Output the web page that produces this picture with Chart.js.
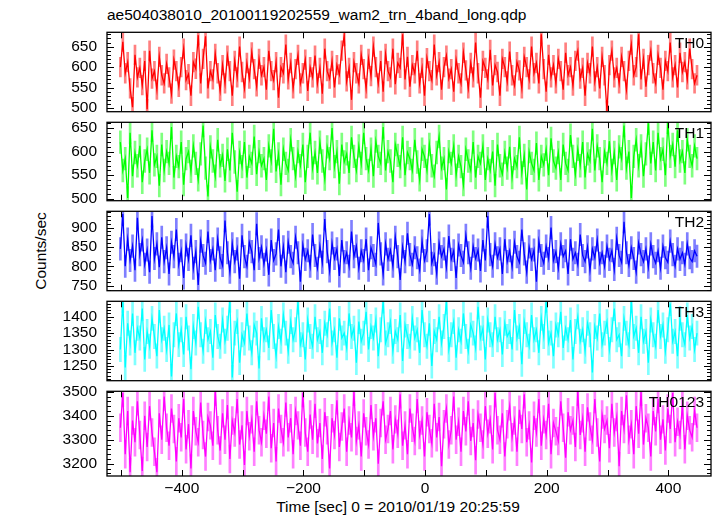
<!DOCTYPE html>
<html><head><meta charset="utf-8">
<script src="https://cdn.jsdelivr.net/npm/chart.js@4.4.1/dist/chart.umd.min.js"></script>
<style>
html,body{margin:0;padding:0;background:#fff;}
body{width:717px;height:516px;position:relative;overflow:hidden;font-family:"Liberation Sans",Arial,sans-serif;}
canvas{position:absolute;left:0;}
.t{position:absolute;font-size:15.5px;line-height:18px;color:#000;white-space:nowrap;}
</style></head><body>
<div class="t" style="left:107px;top:6px">ae504038010_20100119202559_wam2_trn_4band_long.qdp</div>
<div class="t" style="left:41px;top:251px;transform:translate(-50%,-50%) rotate(-90deg)">Counts/sec</div>
<div class="t" style="left:398px;top:498px;transform:translateX(-50%)">Time [sec] 0 = 2010/01/19 20:25:59</div>
<script>
// time bins (seconds from 2010/01/19 20:25:59)
const tStart = -501, tStep = 4;

const th0 = [600,662,585,612,548,502,630,575,598,556,615,497,640,572,590,545,625,580,560,608,
575,535,618,590,552,600,645,568,583,530,612,596,678,560,620,675,548,590,570,632,
585,542,605,560,628,590,530,615,575,650,588,548,610,572,636,595,553,620,580,600,
545,640,590,568,612,525,600,585,655,570,610,548,595,630,560,585,618,542,600,575,
628,560,598,535,645,590,572,615,550,605,582,640,676,565,598,520,612,585,560,630,
595,548,620,578,650,600,560,615,540,632,590,575,645,558,610,598,680,570,625,552,
605,585,640,560,598,530,622,590,568,655,580,612,545,600,628,572,595,540,618,585,
560,635,592,548,610,575,660,585,525,615,598,570,642,555,605,588,530,620,600,565,
638,580,555,612,592,548,625,600,570,650,585,610,560,680,595,540,630,575,605,560,
620,590,545,635,580,600,555,615,640,572,598,530,610,585,650,565,600,548,625,580,
492,605,640,575,598,560,625,590,545,615,655,580,600,680,570,620,552,605,640,585,
560,630,598,545,615,590,660,575,605,550,635,588,612,570,645,595,560,580];

const th1 = [620,560,585,502,640,548,598,570,612,535,580,605,555,645,572,590,528,615,560,600,
575,652,545,590,568,620,530,585,600,558,612,575,540,595,655,565,505,610,580,548,
625,570,592,538,605,560,640,578,515,598,568,620,545,590,575,632,552,600,570,585,
540,612,580,648,558,595,530,605,575,560,625,585,548,600,570,615,535,590,640,565,
598,555,620,580,542,610,585,650,568,600,532,615,578,595,555,630,590,560,612,575,
640,585,560,605,548,622,590,575,652,560,600,580,535,615,592,568,630,550,598,585,
560,625,578,540,605,590,560,615,570,548,598,632,565,585,520,600,575,612,550,590,
568,530,605,580,560,620,545,590,575,612,540,585,560,600,528,615,570,552,598,565,
610,545,585,568,630,555,592,520,600,575,560,618,540,590,572,605,550,628,580,565,
598,540,615,575,560,635,590,552,605,570,620,545,595,580,648,560,612,585,535,600,
575,622,560,598,540,610,585,655,565,600,502,590,625,570,612,548,595,660,575,620,
560,640,585,605,550,662,590,615,568,645,580,600,555,625,590,570,612,585];

const th2 = [845,935,800,870,815,852,790,925,830,868,805,842,785,930,820,858,798,875,812,848,
780,862,825,895,805,840,770,855,818,880,795,838,752,865,828,808,890,815,845,790,
870,822,802,918,835,785,858,812,845,768,880,825,800,862,838,790,910,820,850,805,
842,778,868,815,832,895,800,850,785,862,825,808,875,835,760,855,818,840,800,882,
828,795,852,810,922,838,788,860,820,845,775,868,812,835,800,890,825,852,795,840,
815,870,790,848,828,805,912,832,780,858,818,842,800,875,825,765,850,812,885,830,
805,848,822,790,865,815,840,935,808,830,782,860,825,845,798,878,818,840,770,855,
828,810,880,835,795,852,820,842,788,868,815,930,830,800,858,822,845,780,870,812,
840,798,862,825,810,895,832,785,850,818,842,760,865,828,808,852,820,900,815,838,
795,858,825,840,780,870,818,835,805,882,828,812,850,790,845,822,868,808,835,800,
852,818,840,792,872,828,810,915,835,802,848,820,785,860,830,812,845,798,858,825,
808,840,795,852,822,810,865,830,800,845,818,835,805,858,822,812,840,826];

const th3 = [1300,1450,1245,1380,1320,1410,1290,1365,1335,1425,1270,1355,1310,1395,1340,1280,1420,1330,1365,1300,
1375,1218,1345,1410,1315,1360,1285,1400,1335,1240,1370,1320,1430,1345,1295,1385,1330,1355,1275,1405,
1340,1310,1390,1325,1365,1450,1215,1350,1385,1260,1345,1320,1410,1335,1290,1375,1350,1242,1395,1330,
1360,1305,1420,1340,1280,1370,1325,1405,1350,1295,1385,1330,1360,1445,1315,1345,1270,1390,1340,1310,
1400,1330,1355,1290,1380,1345,1425,1320,1360,1275,1395,1335,1350,1305,1410,1340,1365,1260,1385,1325,
1350,1415,1300,1370,1335,1390,1280,1360,1448,1320,1345,1385,1295,1355,1330,1405,1265,1375,1340,1310,
1395,1335,1360,1290,1420,1345,1310,1380,1250,1355,1330,1400,1320,1370,1445,1300,1345,1385,1275,1360,
1325,1410,1340,1295,1375,1350,1305,1430,1335,1365,1270,1390,1345,1315,1400,1330,1360,1285,1380,1340,
1355,1300,1420,1335,1370,1255,1385,1345,1310,1405,1330,1360,1290,1395,1340,1450,1320,1350,1280,1375,
1345,1415,1305,1365,1330,1390,1270,1355,1400,1325,1360,1295,1380,1345,1230,1370,1335,1410,1315,1350,
1385,1300,1360,1425,1330,1345,1280,1395,1350,1315,1448,1340,1365,1290,1400,1325,1355,1260,1390,1345,
1310,1420,1340,1375,1295,1360,1440,1325,1355,1280,1395,1345,1315,1405,1335,1370,1300,1350];

const th0123 = [3350,3495,3240,3420,3165,3380,3290,3460,3320,3170,3400,3270,3440,3330,3250,3165,3410,3300,3480,3350,
3275,3430,3345,3210,3390,3310,3470,3260,3365,3180,3420,3335,3290,3455,3320,3230,3395,3360,3275,3500,
3340,3255,3410,3300,3445,3220,3380,3330,3470,3280,3360,3195,3420,3315,3385,3250,3460,3340,3290,3400,
3325,3480,3265,3370,3210,3430,3345,3290,3455,3310,3390,3240,3420,3360,3275,3495,3330,3250,3405,3300,
3450,3285,3370,3220,3415,3340,3180,3390,3320,3465,3270,3355,3430,3250,3380,3310,3500,3295,3360,3230,
3410,3335,3280,3445,3315,3390,3200,3370,3460,3300,3345,3420,3260,3385,3325,3490,3275,3360,3240,3430,
3350,3295,3470,3320,3380,3230,3415,3345,3285,3450,3310,3395,3190,3365,3430,3280,3340,3480,3300,3375,
3250,3420,3335,3460,3295,3370,3215,3405,3350,3280,3440,3325,3385,3260,3495,3340,3300,3410,3230,3365,
3440,3310,3380,3250,3425,3345,3490,3290,3360,3205,3400,3330,3470,3275,3385,3320,3450,3240,3370,3335,
3295,3460,3350,3225,3415,3340,3380,3270,3500,3320,3390,3250,3435,3355,3300,3470,3330,3210,3405,3345,
3380,3265,3450,3330,3395,3190,3420,3345,3485,3300,3365,3240,3440,3325,3500,3280,3390,3350,3230,3420,
3335,3470,3300,3385,3255,3430,3345,3495,3290,3375,3320,3445,3260,3400,3340,3310,3420,3350];

const panelLabels = ['TH0','TH1','TH2','TH3','TH0123'];
const series = [th0, th1, th2, th3, th0123];
const errors = [24, 24, 29, 37, 58];
const yMin = [491, 496, 737, 1205, 3149];
const yMax = [685, 662, 942, 1447, 3502];
const yMajorTicks = [[500,550,600,650],[500,550,600,650],[750,800,850,900],[1250,1300,1350,1400],[3200,3300,3400,3500]];
const yMinorStep = [10, 10, 10, 10, 20];
const xMin = -523, xMax = 470;
const xTickLabels = [-400, -200, 0, 200, 400];
const xMajorTicks = [-500, -400, -300, -200, -100, 0, 100, 200, 300, 400];

// styles / layout
const lineColors = ['#ff0000','#00ff00','#0000ff','#00ffff','#ff00ff'];
const errColors = ['rgba(255,0,0,0.5)','rgba(0,255,0,0.5)','rgba(0,0,255,0.5)','rgba(0,255,255,0.5)','rgba(255,0,255,0.5)'];
const panelTops = [27, 117, 206, 296, 386];
const panelBottom = 476;
const FONT = '"Liberation Sans", Arial, Helvetica, sans-serif';
Chart.defaults.font.family = FONT;
Chart.defaults.color = '#000';

function fmt(v){ return v < 0 ? '\u2212' + Math.abs(v) : String(v); }

function makeFrame(k){
  return {
    id: 'frame' + k,
    afterDraw(chart){
      const {ctx, chartArea:a, scales:{x, y}} = chart;
      ctx.save();
      ctx.strokeStyle = '#000'; ctx.lineWidth = 1;
      ctx.beginPath();
      xMajorTicks.forEach(v => {
        const px = Math.round(x.getPixelForValue(v)) + 0.5;
        ctx.moveTo(px, a.bottom); ctx.lineTo(px, a.bottom - 6);
        ctx.moveTo(px, a.top); ctx.lineTo(px, a.top + 6);
      });
      const st = yMinorStep[k];
      for (let v = Math.ceil(yMin[k] / st) * st; v <= yMax[k]; v += st) {
        const py = Math.round(y.getPixelForValue(v)) + 0.5;
        const len = (v % (st * 5) === 0) ? 7 : 4;
        ctx.moveTo(a.left, py); ctx.lineTo(a.left + len, py);
        ctx.moveTo(a.right, py); ctx.lineTo(a.right - len, py);
      }
      ctx.stroke();
      ctx.lineWidth = 1.3;
      ctx.strokeRect(a.left, a.top, a.right - a.left, a.bottom - a.top);
      ctx.fillStyle = '#000';
      ctx.font = '15.5px ' + FONT;
      ctx.textAlign = 'right'; ctx.textBaseline = 'alphabetic';
      ctx.fillText(panelLabels[k], a.right - 7, a.top + 16);
      ctx.restore();
    }
  };
}

const PAD = 14;
for (let k = 0; k < 5; k++) {
  const isLast = k === 4;
  const top = panelTops[k] - PAD;
  const bottom = isLast ? 516 : panelTops[k + 1] + PAD;
  const cv = document.createElement('canvas');
  cv.width = 717; cv.height = bottom - top;
  cv.style.top = top + 'px';
  cv.style.width = '717px'; cv.style.height = (bottom - top) + 'px';
  document.body.appendChild(cv);
  new Chart(cv, {
    type: 'line',
    data: { datasets: [
      {
        type: 'line',
        label: panelLabels[k],
        data: series[k].map((v, i) => ({ x: tStart + i * tStep, y: v })),
        borderColor: lineColors[k], borderWidth: 1.3, pointRadius: 0, tension: 0, fill: false,
        order: 1
      },
      {
        type: 'bar',
        label: panelLabels[k] + ' error',
        data: series[k].map((v, i) => ({ x: tStart + i * tStep, y: [v - errors[k], v + errors[k]] })),
        backgroundColor: errColors[k], borderWidth: 0, barThickness: 2,
        order: 2
      }
    ]},
    options: {
      responsive: false, animation: false, devicePixelRatio: 1,
      layout: { padding: { left: 0, right: 6, top: PAD, bottom: isLast ? 0 : PAD } },
      plugins: { legend: { display: false }, tooltip: { enabled: false } },
      scales: {
        x: { type: 'linear', min: xMin, max: xMax, display: isLast, offset: false,
             grid: { display: false, drawTicks: false, offset: false }, border: { display: false },
             afterBuildTicks: s => { s.ticks = xTickLabels.map(v => ({ value: v })); },
             afterFit: s => { if (isLast) s.height = 516 - panelBottom; },
             ticks: { color: '#000', font: { size: 15.5 }, padding: 3, maxRotation: 0, autoSkip: false, callback: v => fmt(v) } },
        y: { type: 'linear', min: yMin[k], max: yMax[k],
             grid: { display: false, drawTicks: false }, border: { display: false },
             afterBuildTicks: s => { s.ticks = yMajorTicks[k].map(v => ({ value: v })); },
             afterFit: s => { s.width = 107; },
             ticks: { color: '#000', font: { size: 15.5 }, padding: 10, autoSkip: false, callback: v => String(v) } }
      }
    },
    plugins: [makeFrame(k)]
  });
}
</script>
</body></html>
